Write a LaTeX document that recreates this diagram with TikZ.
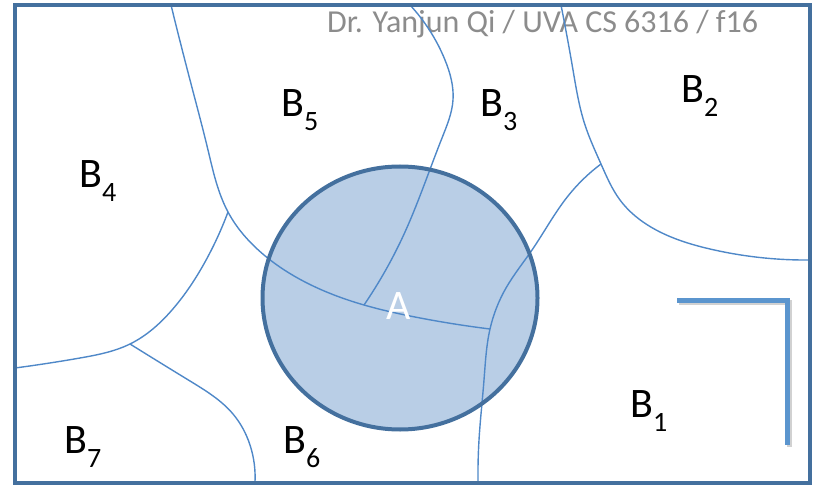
\documentclass[tikz,border=0pt]{standalone}
\usepackage{fontspec}
\setmainfont{Carlito}
\usetikzlibrary{hobby}
\definecolor{framec}{HTML}{44709E}
\definecolor{circfill}{HTML}{B9CEE6}
\definecolor{curvec}{HTML}{4F88C8}
\definecolor{lshape}{HTML}{5B95CE}
\definecolor{wmark}{HTML}{8C8C8C}
\newcommand{\blab}[1]{B\raisebox{-14pt}{\fontsize{28}{28}\selectfont #1}}
\begin{document}
\begin{tikzpicture}[x=1pt,y=-1pt,
  region/.style={draw=curvec,line width=1.4pt,use Hobby shortcut},
  lab/.style={inner sep=0pt,anchor=base west,font=\fontsize{42}{42}\selectfont}]
\useasboundingbox (0,0) rectangle (813,486);
% watermark
\node[inner sep=0pt,anchor=base west,text=wmark,font=\fontsize{32}{32}\selectfont] (wm) at (327,33) {Dr. Yanjun Qi / UVA CS 6316 / f16};
% circle fill
\fill[circfill] (400,298) ellipse [x radius=137.5, y radius=131.5];
% junction coordinates
\coordinate (j1) at (364,305);
\coordinate (j2) at (490,329);
\coordinate (j3) at (601,164);
\coordinate (j4) at (130,344);
\coordinate (j5) at (228,212);
% curves
\draw[region] (171,5) .. (190,80) .. (208,150) .. (j5) .. (264,255) .. (311,285) .. (j1) .. (415,317) .. (j2);
\draw[region] (410,5) .. (445,60) .. (453,100) .. (442,138) .. (426,180) .. (405,232) .. (j1);
\draw[region] (561,5) .. (573,70) .. (585,125) .. (j3) .. (620,200) .. (660,232) .. (710,249) .. (810,260);
\draw[region] (j3) .. (568,196) .. (532,250) .. (506,288) .. (j2) .. (484,380) .. (479,440) .. (478,482);
\draw[region] (j5) .. (205,262) .. (172,310) .. (j4) .. (80,358) .. (15,368);
\draw[region] (j4) .. (190,381) .. (233,414) .. (250,445) .. (255,482);
% circle outline
\draw[framec,line width=4pt] (400,298) ellipse [x radius=137.5, y radius=131.5];
\node[lab,text=white] (A) at (386,319) {A};
% outer frame
\draw[framec,line width=4pt] (15,5.5) rectangle (810,482.5);
% L shape with shadow
\draw[black!18,line width=5pt,miter limit=10] (679,302.5) -- (789.5,302.5) -- (789.5,447);
\draw[lshape,line width=5pt] (677,300) -- (787,300) -- (787,445);
% labels
\node[lab] (b5) at (281,117) {\blab{5}};
\node[lab] (b3) at (480,117) {\blab{3}};
\node[lab] (b2) at (681,103) {\blab{2}};
\node[lab] (b4) at (79,188) {\blab{4}};
\node[lab] (b1) at (630,417) {\blab{1}};
\node[lab] (b7) at (64,453) {\blab{7}};
\node[lab] (b6) at (283,453) {\blab{6}};
\end{tikzpicture}
\end{document}
